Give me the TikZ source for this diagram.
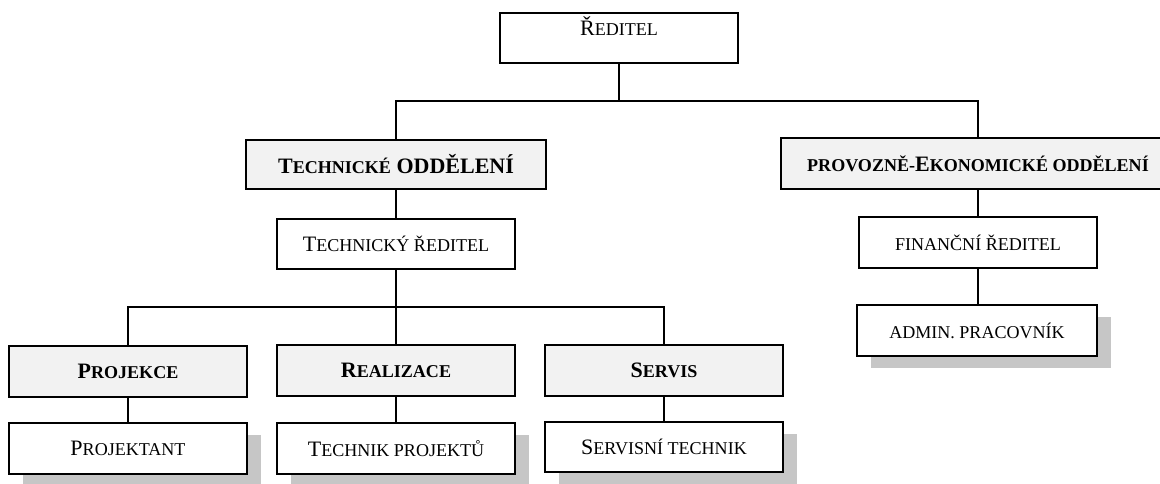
\documentclass[tikz,border=0pt]{standalone}
\usepackage{fontspec}
\setmainfont{Liberation Serif}
\newfontfamily\scfont[Scale=0.82]{Liberation Serif}
\newcommand\smc[1]{{\scfont #1}}
\usetikzlibrary{shadows}
\begin{document}
\begin{tikzpicture}[x=1pt,y=1pt,
  every node/.style={font=\fontsize{22}{26}\selectfont},
  box/.style={draw=black, line width=2pt, rectangle, inner sep=0pt,
    minimum width=238pt, minimum height=50pt, fill=white},
  deptbox/.style={box, fill=black!5, font=\fontsize{22}{26}\selectfont\bfseries},
  shadowbox/.style={box, drop shadow={shadow xshift=14pt, shadow yshift=-12pt, fill=gray!45, opacity=1}},
  conn/.style={line width=1.7pt}
]
\useasboundingbox (0,0) rectangle (1160,-484);

% top
\node[box, text height=23pt, text depth=27pt] (dir) at (619,-38) {Ř\smc{EDITEL}};

% departments
\node[deptbox, minimum width=300pt, minimum height=49pt] (tech) at (396,-164.5) {T\smc{ECHNICKÉ} ODDĚLENÍ};
\node[deptbox, minimum width=394pt, minimum height=51pt] (prov) at (978,-163.5) {\smc{PROVOZNĚ-}E\smc{KONOMICKÉ ODDĚLENÍ}};

% second level
\node[box] (techr) at (396,-244) {T\smc{ECHNICKÝ ŘEDITEL}};
\node[box, minimum height=51pt] (fin) at (978,-242.5) {\smc{FINANČNÍ ŘEDITEL}};
\node[shadowbox, minimum width=240pt, minimum height=51pt] (adm) at (977,-330.5) {\smc{ADMIN. PRACOVNÍK}};

% sections
\node[deptbox, minimum height=51pt] (proj) at (128,-371) {P\smc{ROJEKCE}};
\node[deptbox, minimum height=51pt] (real) at (396,-370) {R\smc{EALIZACE}};
\node[deptbox, minimum height=51pt] (serv) at (664,-370.5) {S\smc{ERVIS}};

% staff
\node[shadowbox, minimum height=51pt] (projt) at (128,-448.5) {P\smc{ROJEKTANT}};
\node[shadowbox, minimum height=51pt] (techp) at (396,-448.5) {T\smc{ECHNIK PROJEKTŮ}};
\node[shadowbox, minimum height=50pt] (servt) at (664,-447) {S\smc{ERVISNÍ TECHNIK}};

% junctions
\coordinate (j1) at (619,-101);
\coordinate (j2) at (396,-307);

% connectors
\draw[conn] (dir.south) -- (j1);
\draw[conn] (tech.north) |- (j1) -| (prov.north);
\draw[conn] (tech.south) -- (techr.north);
\draw[conn] (prov.south) -- (fin.north);
\draw[conn] (fin.south) -- (fin.south |- adm.north);
\draw[conn] (techr.south) -- (real.north);
\draw[conn] (proj.north) |- (j2) -| (serv.north);
\draw[conn] (proj.south) -- (projt.north);
\draw[conn] (real.south) -- (techp.north);
\draw[conn] (serv.south) -- (servt.north);
\end{tikzpicture}
\end{document}
